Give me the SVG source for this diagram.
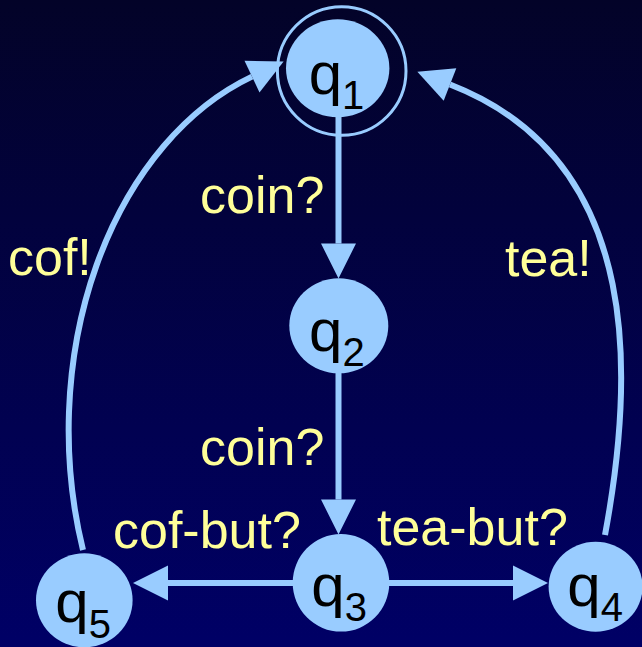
<svg xmlns="http://www.w3.org/2000/svg" width="642" height="647" viewBox="0 0 642 647">
<defs>
<linearGradient id="bg" x1="0" y1="0" x2="0" y2="1">
<stop offset="0" stop-color="#030328"/>
<stop offset="1" stop-color="#000066"/>
</linearGradient>
<marker id="ah" markerUnits="userSpaceOnUse" markerWidth="36" markerHeight="36" viewBox="0 -18 36 36" refX="0" refY="0" orient="auto" overflow="visible">
<polygon points="0,-17.5 35,0 0,17.5" fill="#99CCFF"/>
</marker>
<style>
.edge{fill:none;stroke:#99CCFF;stroke-width:6;marker-end:url(#ah)}
.node{fill:#99CCFF}
.nt{font-family:"Liberation Sans",Arial,sans-serif;font-size:60px;fill:#000}
.sub{font-size:40px}
.lbl{font-family:"Liberation Sans",Arial,sans-serif;font-size:52px;fill:#FFFF99}
</style>
</defs>
<rect x="0" y="0" width="642" height="647" fill="url(#bg)"/>
<g id="connectors">
<path class="edge" d="M338.5,117 L338.5,243.5"/>
<path class="edge" d="M338.5,373 L338.5,499.5"/>
<path class="edge" d="M293,583 L168,583"/>
<path class="edge" d="M389,583 L513,583"/>
<path class="edge" d="M83,550 A272,374 0 0 1 252,76.6"/>
<path class="edge" d="M605,535 C632,390 650,162 450,84.5"/>
</g>
<g id="labels">
<text class="lbl" x="200" y="213">coin?</text>
<text class="lbl" x="200" y="465">coin?</text>
<text class="lbl" x="8" y="275">cof!</text>
<text class="lbl" x="505" y="276">tea!</text>
<text class="lbl" x="113" y="548">cof-but?</text>
<text class="lbl" x="377" y="545">tea-but?</text>
</g>
<g id="q1">
<circle cx="341.7" cy="71" r="64.3" fill="none" stroke="#99CCFF" stroke-width="3"/>
<ellipse class="node" cx="337.7" cy="68.3" rx="51.7" ry="49"/>
<text class="nt" x="308.7" y="94">q<tspan class="sub" dy="15">1</tspan></text>
</g>
<g id="q2">
<ellipse class="node" cx="338.8" cy="325.8" rx="49.5" ry="47.5"/>
<text class="nt" x="309" y="350.5">q<tspan class="sub" dy="15">2</tspan></text>
</g>
<g id="q3">
<ellipse class="node" cx="341" cy="582.8" rx="48.3" ry="48.8"/>
<text class="nt" x="311.3" y="605.5">q<tspan class="sub" dy="15">3</tspan></text>
</g>
<g id="q4">
<ellipse class="node" cx="595.6" cy="586.7" rx="47" ry="45"/>
<text class="nt" x="567.3" y="605.5">q<tspan class="sub" dy="15">4</tspan></text>
</g>
<g id="q5">
<ellipse class="node" cx="84.3" cy="600.3" rx="48.3" ry="47"/>
<text class="nt" x="55.3" y="621.5">q<tspan class="sub" dy="16">5</tspan></text>
</g>
</svg>
